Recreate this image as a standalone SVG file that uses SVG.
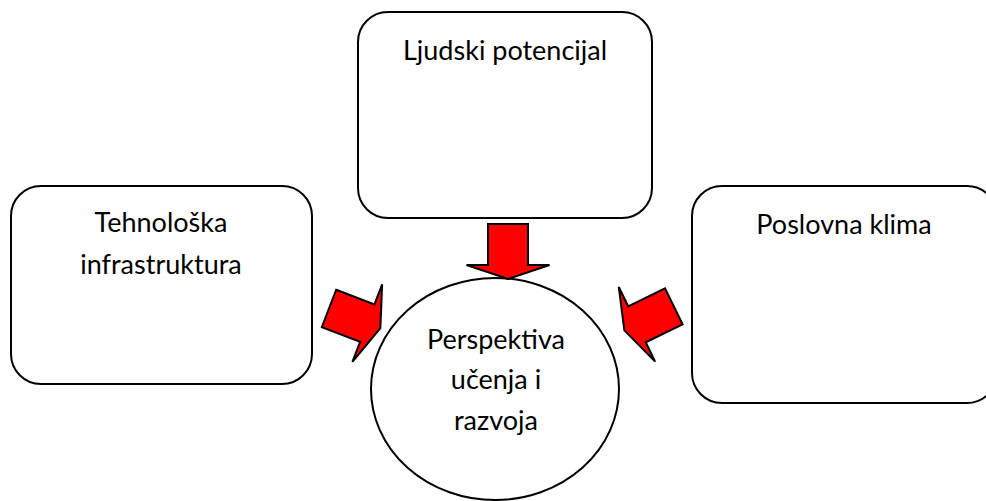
<svg xmlns="http://www.w3.org/2000/svg" width="986" height="501" viewBox="0 0 986 501">
<defs>
<style>
.box{fill:#fff;stroke:#000;stroke-width:2}
.lbl{font-family:Lato,"Open Sans","Noto Sans",sans-serif;font-size:27px;fill:#000;text-anchor:middle}
.arr{fill:#ff0000;stroke:#000;stroke-width:2;stroke-linejoin:miter}
</style>
<path id="arrowShape" d="M0,-20 L41,-20 L41,-41.5 L55,0 L41,41.5 L41,20 L0,20 Z"/>
</defs>
<rect width="986" height="501" fill="#fff"/>
<g id="node-ljudski">
<rect class="box" x="358" y="12" width="294" height="206" rx="30" ry="30"/>
<text class="lbl" x="505" y="60">Ljudski potencijal</text>
</g>
<g id="node-tehnoloska">
<rect class="box" x="11" y="186" width="301" height="198" rx="30" ry="30"/>
<text class="lbl" x="161" y="232">Tehnološka</text>
<text class="lbl" x="161" y="274">infrastruktura</text>
</g>
<g id="node-poslovna">
<rect class="box" x="692" y="186" width="305" height="217" rx="30" ry="30"/>
<text class="lbl" x="844" y="234">Poslovna klima</text>
</g>
<g id="node-perspektiva">
<ellipse class="box" cx="495" cy="389" rx="124" ry="111"/>
<text class="lbl" x="496" y="349">Perspektiva</text>
<text class="lbl" x="496" y="389">učenja i</text>
<text class="lbl" x="496" y="430">razvoja</text>
</g>
<g id="connectors">
<use href="#arrowShape" class="arr" transform="translate(508,224) rotate(90)"/>
<use href="#arrowShape" class="arr" transform="translate(329,308.4) rotate(21)"/>
<use href="#arrowShape" class="arr" transform="translate(673.8,306.3) rotate(154)"/>
</g>
</svg>
